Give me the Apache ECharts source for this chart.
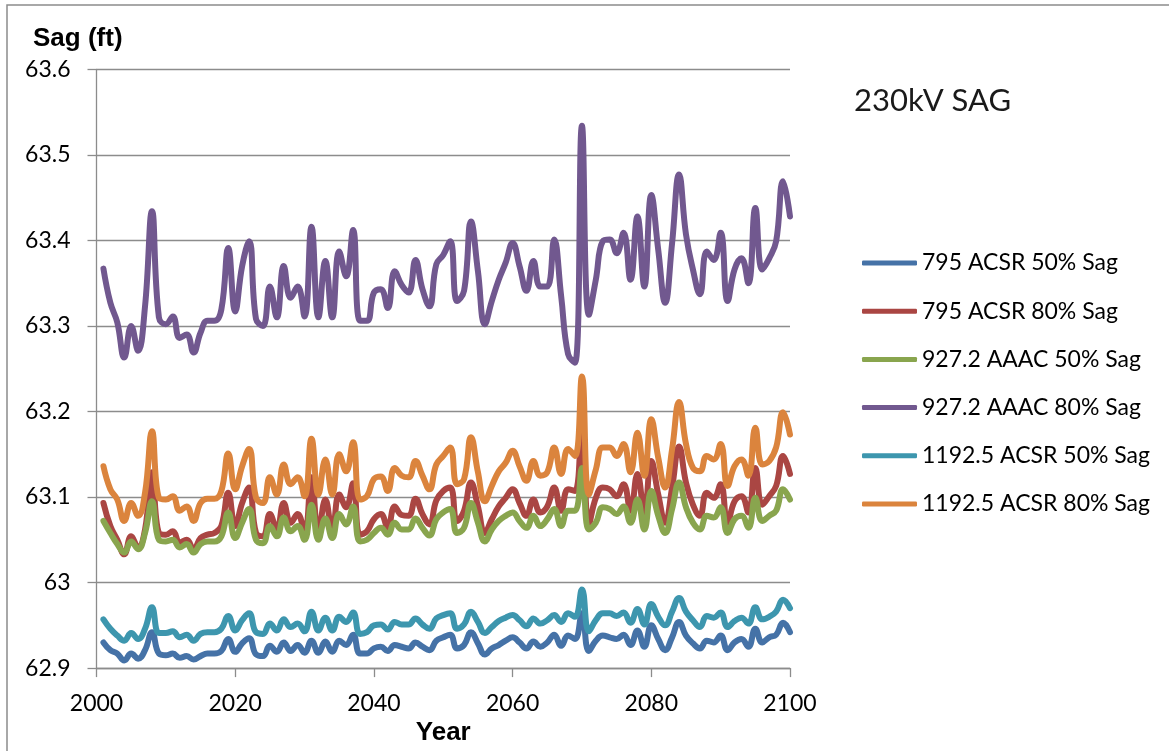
<!DOCTYPE html>
<html>
<head>
<meta charset="utf-8">
<script src="https://cdn.jsdelivr.net/npm/echarts@6/dist/echarts.min.js"></script>
<style>
html,body{margin:0;padding:0;background:#fff;}
#c{width:1169px;height:751px;}
</style>
</head>
<body>
<div id="c"></div>
<script>
const years = [2001,2002,2003,2004,2005,2006,2007,2008,2009,2010,
2011,2012,2013,2014,2015,2016,2017,2018,2019,2020,
2021,2022,2023,2024,2025,2026,2027,2028,2029,2030,
2031,2032,2033,2034,2035,2036,2037,2038,2039,2040,
2041,2042,2043,2044,2045,2046,2047,2048,2049,2050,
2051,2052,2053,2054,2055,2056,2057,2058,2059,2060,
2061,2062,2063,2064,2065,2066,2067,2068,2069,2070,
2071,2072,2073,2074,2075,2076,2077,2078,2079,2080,
2081,2082,2083,2084,2085,2086,2087,2088,2089,2090,
2091,2092,2093,2094,2095,2096,2097,2098,2099,2100];

const sag795_50 = [62.930,62.921,62.917,62.909,62.917,62.911,62.921,62.942,62.917,62.915,
62.917,62.912,62.914,62.910,62.914,62.917,62.917,62.920,62.934,62.919,
62.929,62.935,62.916,62.914,62.926,62.919,62.930,62.920,62.927,62.918,
62.932,62.918,62.931,62.919,62.932,62.927,62.939,62.917,62.917,62.923,
62.925,62.920,62.927,62.925,62.923,62.930,62.925,62.921,62.932,62.936,
62.939,62.923,62.927,62.942,62.929,62.916,62.923,62.927,62.932,62.936,
62.930,62.923,62.931,62.925,62.930,62.939,62.926,62.938,62.934,62.964,
62.920,62.932,62.938,62.936,62.934,62.939,62.927,62.944,62.925,62.950,
62.934,62.921,62.936,62.954,62.938,62.929,62.923,62.932,62.930,62.938,
62.921,62.930,62.934,62.925,62.946,62.930,62.936,62.939,62.953,62.942];

const sag795_80 = [63.093,63.066,63.050,63.033,63.054,63.041,63.062,63.129,63.058,63.056,
63.060,63.047,63.050,63.039,63.052,63.056,63.058,63.066,63.105,63.066,
63.093,63.111,63.058,63.054,63.080,63.062,63.093,63.070,63.080,63.058,
63.123,63.058,63.097,63.060,63.103,63.088,63.116,63.056,63.060,63.074,
63.080,63.064,63.089,63.079,63.078,63.098,63.080,63.068,63.096,63.107,
63.111,63.072,63.084,63.117,63.089,63.058,63.074,63.089,63.099,63.109,
63.093,63.078,63.097,63.082,63.089,63.111,63.084,63.109,63.107,63.187,
63.068,63.099,63.111,63.109,63.101,63.115,63.084,63.127,63.082,63.142,
63.103,63.070,63.111,63.159,63.117,63.091,63.078,63.105,63.099,63.115,
63.070,63.095,63.101,63.082,63.134,63.091,63.101,63.113,63.148,63.127];

const sag927_50 = [63.072,63.058,63.045,63.035,63.048,63.039,63.058,63.095,63.050,63.048,
63.050,63.041,63.045,63.035,63.045,63.048,63.048,63.054,63.082,63.052,
63.070,63.086,63.050,63.046,63.066,63.054,63.076,63.060,63.066,63.050,
63.091,63.050,63.075,63.052,63.080,63.068,63.089,63.048,63.050,63.058,
63.064,63.056,63.070,63.062,63.062,63.075,63.064,63.055,63.074,63.082,
63.086,63.058,63.064,63.093,63.070,63.048,63.062,63.072,63.078,63.082,
63.072,63.064,63.078,63.066,63.074,63.086,63.066,63.084,63.084,63.134,
63.062,63.070,63.088,63.086,63.080,63.089,63.070,63.097,63.062,63.107,
63.078,63.058,63.086,63.117,63.088,63.070,63.062,63.078,63.076,63.088,
63.058,63.074,63.078,63.064,63.099,63.072,63.078,63.084,63.109,63.097];

const sag927_80 = [63.367,63.327,63.304,63.263,63.300,63.271,63.323,63.434,63.310,63.302,
63.311,63.286,63.290,63.269,63.292,63.306,63.306,63.319,63.391,63.317,
63.370,63.399,63.308,63.300,63.346,63.310,63.370,63.333,63.346,63.311,
63.416,63.310,63.376,63.310,63.387,63.358,63.412,63.306,63.306,63.339,
63.343,63.321,63.364,63.348,63.339,63.377,63.343,63.323,63.372,63.383,
63.399,63.329,63.341,63.422,63.364,63.302,63.329,63.354,63.374,63.397,
63.370,63.341,63.376,63.346,63.346,63.401,63.335,63.267,63.257,63.534,
63.313,63.354,63.399,63.401,63.385,63.409,63.354,63.428,63.346,63.453,
63.389,63.327,63.397,63.477,63.407,63.366,63.337,63.387,63.377,63.409,
63.329,63.366,63.379,63.350,63.438,63.366,63.379,63.399,63.469,63.428];

const sag1192_50 = [62.957,62.946,62.938,62.932,62.941,62.934,62.946,62.971,62.941,62.941,
62.943,62.936,62.939,62.932,62.940,62.942,62.942,62.946,62.961,62.944,
62.956,62.964,62.942,62.940,62.952,62.944,62.957,62.948,62.952,62.943,
62.966,62.944,62.959,62.944,62.960,62.954,62.965,62.940,62.942,62.950,
62.951,62.945,62.954,62.951,62.951,62.958,62.951,62.946,62.958,62.962,
62.964,62.946,62.951,62.966,62.954,62.941,62.948,62.955,62.959,62.962,
62.956,62.949,62.958,62.952,62.956,62.962,62.954,62.964,62.960,62.992,
62.943,62.956,62.964,62.964,62.961,62.965,62.953,62.969,62.951,62.975,
62.960,62.950,62.966,62.982,62.966,62.956,62.948,62.961,62.959,62.965,
62.948,62.955,62.959,62.952,62.971,62.957,62.960,62.966,62.980,62.970];

const sag1192_80 = [63.136,63.109,63.097,63.072,63.093,63.078,63.105,63.177,63.099,63.097,
63.101,63.084,63.089,63.072,63.093,63.098,63.098,63.107,63.151,63.109,
63.136,63.156,63.099,63.093,63.123,63.103,63.138,63.115,63.123,63.101,
63.168,63.103,63.144,63.103,63.150,63.130,63.164,63.097,63.101,63.121,
63.124,63.107,63.134,63.125,63.123,63.142,63.125,63.109,63.138,63.148,
63.158,63.115,63.121,63.170,63.129,63.095,63.113,63.130,63.140,63.154,
63.136,63.119,63.142,63.125,63.129,63.158,63.127,63.156,63.148,63.241,
63.103,63.132,63.158,63.158,63.148,63.162,63.129,63.175,63.125,63.191,
63.146,63.111,63.156,63.211,63.162,63.134,63.130,63.148,63.144,63.162,
63.113,63.136,63.144,63.125,63.181,63.138,63.142,63.158,63.199,63.173];

const seriesNames = ['795 ACSR 50% Sag','795 ACSR 80% Sag','927.2 AAAC 50% Sag','927.2 AAAC 80% Sag','1192.5 ACSR 50% Sag','1192.5 ACSR 80% Sag'];
const seriesValues = [sag795_50, sag795_80, sag927_50, sag927_80, sag1192_50, sag1192_80];
const seriesColors = ['#4572A7','#AA4643','#89A54E','#71588F','#3D96AE','#DB843D'];

const chartTitle = '230kV SAG';
const yAxisTitle = 'Sag (ft)';
const xAxisTitle = 'Year';

const chart = echarts.init(document.getElementById('c'), null, {renderer:'canvas'});
const gridColor = '#8c8c8c';
const labelFont = 'Lato, "Open Sans", sans-serif';

chart.setOption({
  animation: false,
  backgroundColor: '#fff',
  title: {
    text: chartTitle,
    left: 849, top: 80,
    textStyle: {fontFamily: labelFont, fontSize: 31, fontWeight: 'normal', color: '#1a1a1a'}
  },
  legend: {
    orient: 'vertical',
    left: 857, top: 246,
    icon: 'roundRect',
    itemWidth: 55, itemHeight: 5,
    itemGap: 24.2,
    data: seriesNames,
    textStyle: {fontFamily: labelFont, fontSize: 23, color: '#000', lineHeight: 24}
  },
  graphic: [
    {type:'rect', shape:{x:7, y:5, width:1180, height:770}, style:{fill:'none', stroke:'#8c8c8c', lineWidth:1.5}, silent:true, z:-1},
    {type:'text', left: 33, top: 26, style:{text: yAxisTitle, font:'bold 26px "Liberation Sans", Arial, sans-serif', fill:'#000'}}
  ],
  grid: {left: 96.5, right: 379, top: 69.3, bottom: 81.7},
  xAxis: {
    type: 'value', min: 2000, max: 2100, interval: 20,
    name: xAxisTitle, nameLocation: 'middle', nameGap: 34,
    nameTextStyle: {fontFamily: '"Liberation Sans", Arial, sans-serif', fontWeight: 'bold', fontSize: 26, color: '#000'},
    axisLine: {show: true, lineStyle: {color: gridColor, width: 1.3}},
    axisTick: {show: true, inside: false, length: 9, lineStyle: {color: gridColor, width: 1.3}},
    axisLabel: {margin: 24, fontFamily: labelFont, fontSize: 23, color: '#000',
      formatter: function(v){ return String(v); }},
    splitLine: {show: false}
  },
  yAxis: {
    type: 'value', min: 62.9, max: 63.6, interval: 0.1,
    axisLine: {show: true, lineStyle: {color: gridColor, width: 1.3}},
    axisTick: {show: true, inside: false, length: 9, lineStyle: {color: gridColor, width: 1.3}},
    axisLabel: {margin: 26, fontFamily: labelFont, fontSize: 23, color: '#000',
      formatter: function(v){ return String(Math.round(v*10)/10); }},
    splitLine: {show: true, lineStyle: {color: gridColor, width: 1.3}}
  },
  series: seriesNames.map(function(name, i){
    return {
      name: name,
      type: 'line',
      smooth: 0.45,
      symbol: 'none',
      color: seriesColors[i],
      itemStyle: {color: seriesColors[i]},
      lineStyle: {width: 6, color: seriesColors[i], cap: 'round', join: 'round'},
      data: years.map(function(y, k){ return [y, seriesValues[i][k]]; })
    };
  })
});
</script>
</body>
</html>
